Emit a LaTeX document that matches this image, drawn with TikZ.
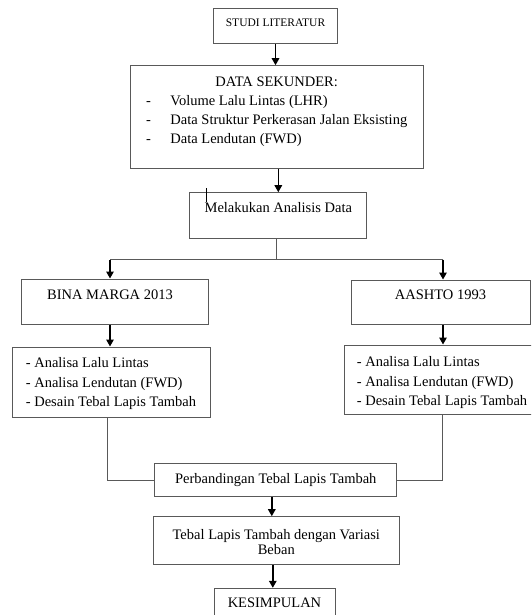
\documentclass[tikz,border=0pt]{standalone}
\usepackage{fontspec}
\setmainfont{Liberation Serif}
\usetikzlibrary{arrows.meta}

\begin{document}
\begin{tikzpicture}[x=1pt,y=-1pt,
	block/.style={draw=black!65,line width=1pt,inner sep=0pt,anchor=base,font=\fontsize{14.5}{19}\selectfont},
	link/.style={draw=black!65,line width=1pt},
	flow/.style={draw=black,line width=1.4pt,-{Triangle[length=7pt,width=7.5pt]}}]
	\useasboundingbox (0,0) rectangle (531,615);
	\clip (0,0) rectangle (531,615);
	\node[block,minimum width=124.4pt,text height=17.3pt,text depth=17pt,font=\fontsize{11.5}{14}\selectfont] (studi) at (275.5,26.3) {STUDI LITERATUR};
	\node[block,minimum width=293.3pt,text height=21.1pt,text depth=81.5pt] (data) at (276.7,86.8) {\begin{tabular}[t]{@{}p{24.3pt}@{}l@{}}
		\multicolumn{2}{c}{DATA SEKUNDER:}\\
		- & Volume Lalu Lintas (LHR)\\
		- & Data Struktur Perkerasan Jalan Eksisting\\
		- & Data Lendutan (FWD)
	\end{tabular}};
	\node[block,minimum width=176.7pt,text height=20.1pt,text depth=25.5pt] (ana) at (278.3,212.8) {Melakukan Analisis Data};
	\node[block,minimum width=187pt,text height=20.8pt,text depth=24.2pt] (bina) at (114.5,299.8) {BINA MARGA 2013\hspace*{9pt}};
	\node[block,minimum width=179pt,text height=19.8pt,text depth=24.2pt] (aashto) at (440.5,299.8) {AASHTO 1993};
	\node[block,minimum width=198pt,text height=20.8pt,text depth=49.2pt,font=\fontsize{14.5}{19.5}\selectfont] (lista) at (111,367.8) {\begin{tabular}[t]{@{}l@{}}
		- Analisa Lalu Lintas\\
		- Analisa Lendutan (FWD)\\
		- Desain Tebal Lapis Tambah
	\end{tabular}};
	\node[block,minimum width=196pt,text height=21.8pt,text depth=47.2pt,font=\fontsize{14.5}{19.5}\selectfont] (listb) at (442,366.8) {\begin{tabular}[t]{@{}l@{}}
		- Analisa Lalu Lintas\\
		- Analisa Lendutan (FWD)\\
		- Desain Tebal Lapis Tambah
	\end{tabular}};
	\node[block,minimum width=241.7pt,text height=20.5pt,text depth=12.9pt] (perb) at (275.8,483.8) {Perbandingan Tebal Lapis Tambah};
	\node[block,minimum width=246pt,text height=23.1pt,text depth=24.5pt,font=\fontsize{14.5}{15}\selectfont] (tebal) at (276.3,539.8) {\begin{tabular}[t]{@{}c@{}}
		Tebal Lapis Tambah dengan Variasi\\
		Beban
	\end{tabular}};
	\node[block,minimum width=121pt,text height=19.5pt,text depth=20pt] (kes) at (274.5,607.8) {KESIMPULAN};
	\coordinate (split) at (276.7,259.5);
	\coordinate (splitl) at (110,259.5);
	\coordinate (splitr) at (443,259.5);
	% cursor mark
	\draw[black,line width=0.6pt] (206.7,188) -- (206.7,201.7);
	\draw[flow] (studi.south) -- (studi.south |- data.north);
	\draw[flow] (data.south -| ana.north) -- (ana.north);
	\draw[link] (ana.south -| split) -- (split);
	\draw[link] (splitl) -- (splitr);
	\draw[flow] (splitl) -- (splitl |- bina.north);
	\draw[flow] (splitr) -- (splitr |- aashto.north);
	\draw[flow] (bina.south -| splitl) -- (lista.north -| splitl);
	\draw[flow] (aashto.south -| splitr) -- (listb.north -| splitr);
	\draw[link] ([xshift=-4pt]lista.south) |- (perb.west);
	\draw[link] (listb.south) |- (perb.east);
	\draw[flow] ([xshift=-4pt]perb.south) -- ([xshift=-4pt]perb.south |- tebal.north);
	\draw[flow] ([xshift=-3.5pt]tebal.south) -- ([xshift=-3.5pt]tebal.south |- kes.north);
\end{tikzpicture}
\end{document}
